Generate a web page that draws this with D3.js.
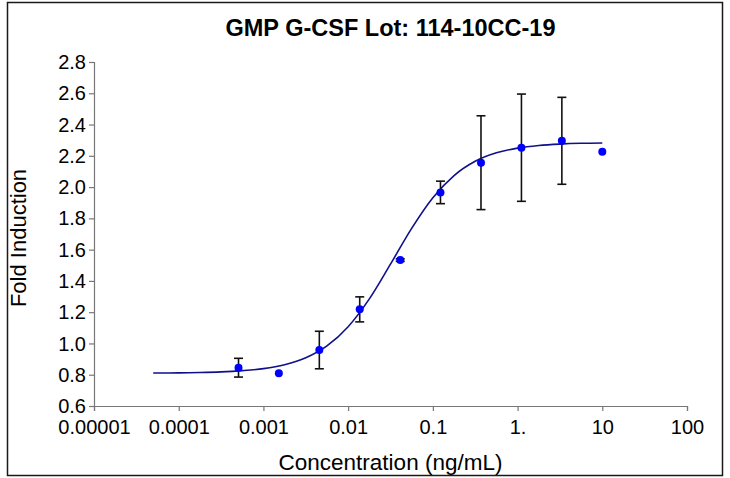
<!DOCTYPE html>
<html>
<head>
<meta charset="utf-8">
<script src="https://cdn.jsdelivr.net/npm/d3@7"></script>
<style>
  html, body { margin: 0; padding: 0; background: #fff; }
  svg { display: block; }
  text { font-family: "Liberation Sans", Arial, sans-serif; fill: #000; }
</style>
</head>
<body>
<svg id="chart" width="730" height="478"></svg>
<script>
// ---- data ----
const concentrations = [0.000508, 0.00152, 0.00457, 0.0137, 0.0412, 0.123, 0.370, 1.111, 3.333, 10];
const foldInduction  = [0.845, 0.81, 0.958, 1.218, 1.533, 1.966, 2.156, 2.252, 2.296, 2.226];
const errorSD        = [0.060, 0, 0.120, 0.080, 0.008, 0.072, 0.300, 0.343, 0.278, 0];

// fitted curve
const curveConc = [0.00005, 0.0001, 0.000178, 0.000316, 0.000562, 0.001, 0.00178, 0.00316, 0.00562, 0.01,
                   0.0178, 0.0316, 0.0562, 0.1, 0.178, 0.316, 0.562, 1, 1.78, 3.16, 5.62, 10];
const curveFold = [0.811, 0.812, 0.814, 0.818, 0.826, 0.839, 0.864, 0.908, 0.984, 1.107,
                   1.285, 1.507, 1.736, 1.932, 2.074, 2.165, 2.219, 2.249, 2.266, 2.275, 2.280, 2.282];

const yTicks = [0.6, 0.8, 1.0, 1.2, 1.4, 1.6, 1.8, 2.0, 2.2, 2.4, 2.6, 2.8];
const xTicks = [0.00001, 0.0001, 0.001, 0.01, 0.1, 1, 10, 100];
const xTickLabels = ["0.00001", "0.0001", "0.001", "0.01", "0.1", "1.", "10", "100"];

const titleText = "GMP G-CSF Lot: 114-10CC-19";
const xTitle = "Concentration (ng/mL)";
const yTitle = "Fold Induction";

// ---- layout ----
const svg = d3.select("#chart");
const plotLeft = 94, plotRight = 687, plotTop = 62, plotBottom = 406;

const x = d3.scaleLog().domain([0.00001, 100]).range([plotLeft, plotRight]);
const y = d3.scaleLinear().domain([0.6, 2.8]).range([plotBottom, plotTop]);

// outer border
svg.append("rect")
  .attr("x", 7.5).attr("y", 2.5).attr("width", 715).attr("height", 473)
  .attr("fill", "none").attr("stroke", "#1a1a1a").attr("stroke-width", 1.5);

// title
svg.append("text")
  .attr("x", (plotLeft + plotRight) / 2).attr("y", 36)
  .attr("text-anchor", "middle")
  .style("font-size", "23.5px").style("font-weight", "bold")
  .text(titleText);

// y axis
const yAxis = d3.axisLeft(y).tickValues(yTicks).tickFormat(d3.format(".1f")).tickSize(5).tickPadding(3);
const gy = svg.append("g").attr("transform", `translate(${plotLeft},0)`).call(yAxis);
gy.select(".domain").attr("stroke", "#777").attr("stroke-width", 1.2);
gy.selectAll(".tick line").attr("stroke", "#777").attr("stroke-width", 1.2);
gy.selectAll(".tick text").style("font-size", "20px").attr("dy", "0.33em")
  .style("font-family", "'Liberation Sans', Arial, sans-serif").attr("fill", "#000");

// x axis
const xAxis = d3.axisBottom(x).tickValues(xTicks).tickFormat((d, i) => xTickLabels[i]).tickSize(5).tickPadding(9);
const gx = svg.append("g").attr("transform", `translate(0,${plotBottom})`).call(xAxis);
gx.select(".domain").attr("stroke", "#777").attr("stroke-width", 1.2);
gx.selectAll(".tick line").attr("stroke", "#777").attr("stroke-width", 1.2);
gx.selectAll(".tick text").style("font-size", "20px")
  .style("font-family", "'Liberation Sans', Arial, sans-serif").attr("fill", "#000");

// axis titles
svg.append("text")
  .attr("x", (plotLeft + plotRight) / 2).attr("y", 470)
  .attr("text-anchor", "middle")
  .style("font-size", "22.5px")
  .text(xTitle);

svg.append("text")
  .attr("transform", `translate(26,238) rotate(-90)`)
  .attr("text-anchor", "middle")
  .style("font-size", "22px")
  .text(yTitle);

// fitted curve
const curveData = curveConc.map((c, i) => ({ c, v: curveFold[i] }));
svg.append("path")
  .datum(curveData)
  .attr("fill", "none")
  .attr("stroke", "#10108a")
  .attr("stroke-width", 1.6)
  .attr("d", d3.line().x(d => x(d.c)).y(d => y(d.v)).curve(d3.curveMonotoneX));

// data
const pts = concentrations.map((c, i) => ({ c, v: foldInduction[i], e: errorSD[i] }));

// error bars
const eb = svg.append("g").attr("stroke", "#111").attr("stroke-width", 1.6);
pts.filter(d => d.e > 0).forEach(d => {
  const cx = x(d.c);
  eb.append("line").attr("x1", cx).attr("x2", cx).attr("y1", y(d.v + d.e)).attr("y2", y(d.v - d.e));
  eb.append("line").attr("x1", cx - 4.5).attr("x2", cx + 4.5).attr("y1", y(d.v + d.e)).attr("y2", y(d.v + d.e));
  eb.append("line").attr("x1", cx - 4.5).attr("x2", cx + 4.5).attr("y1", y(d.v - d.e)).attr("y2", y(d.v - d.e));
});

// points
svg.append("g").selectAll("circle")
  .data(pts).join("circle")
  .attr("cx", d => x(d.c)).attr("cy", d => y(d.v))
  .attr("r", 4).attr("fill", "#0000ff");
</script>
</body>
</html>
